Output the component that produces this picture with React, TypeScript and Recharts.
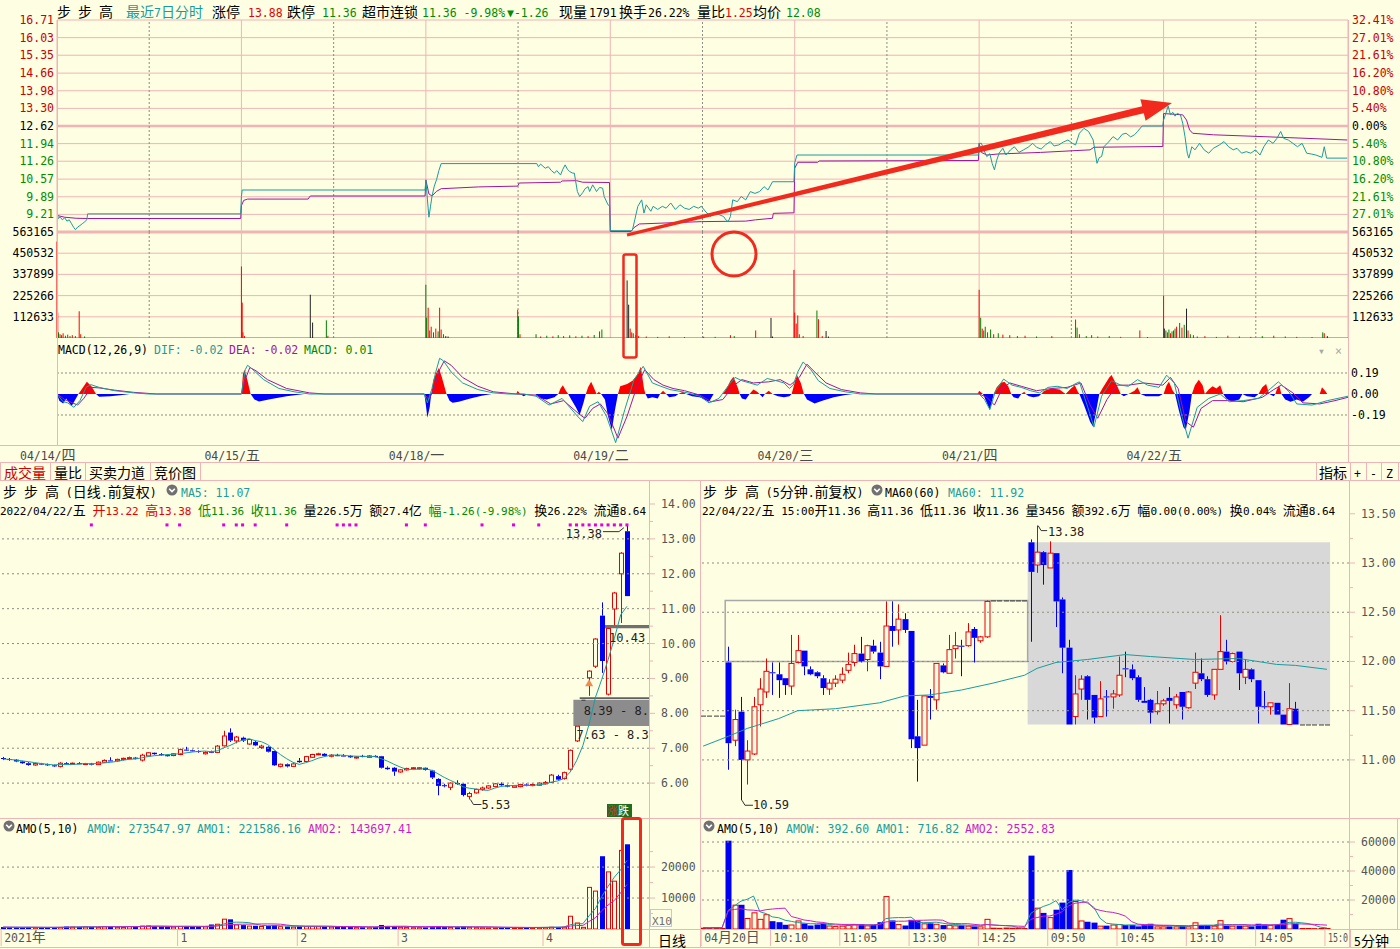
import React from 'react';
import { ComposedChart, Line, Bar, Area, XAxis, YAxis, ReferenceLine, ReferenceArea, ReferenceDot } from 'recharts';

// ---------- palette / fonts ----------
const BG = '#FEFEE2';
const GRID = '#F0B4B4';
const RED = '#E60000';
const GREEN = '#008C00';
const BLUE = '#0000F5';
const TEAL = '#1A9C9C';
const PURPLE = '#A0169E';
const MAGENTA = '#C81EC8';
const DASH = '#8C8C80';
const AXT = '#555555';
const FLAT = '#383838';
const MONO = '"DejaVu Sans Mono", "Liberation Mono", monospace';
const CJKF = '"Noto Sans CJK SC", "Noto Sans CJK JP", sans-serif';

// ---------- top: 7 day intraday ----------
const DAY = 241;
const TOTAL = DAY * 7;
const dayLabels = ['04/14/四', '04/15/五', '04/18/一', '04/19/二', '04/20/三', '04/21/四', '04/22/五'];
const priceTicks = [16.71, 16.03, 15.35, 14.66, 13.98, 13.3, 12.62, 11.94, 11.26, 10.57, 9.89, 9.21];
const pctLabels = ['32.41%', '27.01%', '21.61%', '16.20%', '10.80%', '5.40%', '0.00%', '5.40%', '10.80%', '16.20%', '21.61%', '27.01%'];
const P_MIN = 8.53;
const P_MAX = 16.71;
const P_PREV = 12.62;
const volTicks = [112633, 225266, 337899, 450532, 563165];
const V_MAX = 563165;
const macdTicks = [0.19, 0, -0.19];
const M_MIN = -0.4615;
const M_MAX = 0.38;

// price per day: [minute, price]
const priceDays: number[][][] = [
  [[0, 9.22], [2, 9.05], [4, 9.12], [7, 9.0], [10, 9.08], [13, 8.95], [16, 9.0], [19, 8.85], [22, 8.7], [24, 8.62], [27, 8.72], [30, 8.78], [33, 8.85], [36, 8.92], [39, 9.0], [40, 9.23], [240, 9.23]],
  [[0, 9.9], [1, 10.15], [240, 10.15]],
  [[0, 10.54], [2, 9.8], [4, 9.1], [6, 9.5], [8, 9.9], [11, 10.3], [14, 10.55], [17, 10.9], [20, 11.17], [145, 11.17], [147, 11.05], [150, 11.15], [156, 10.99], [160, 11.05], [164, 10.9], [168, 10.8], [171, 10.9], [176, 10.73], [179, 10.95], [182, 11.12], [185, 10.95], [188, 10.86], [192, 10.8], [194, 10.8], [198, 10.09], [201, 9.9], [205, 10.05], [208, 10.2], [212, 10.28], [214, 10.09], [218, 10.35], [221, 10.2], [223, 10.09], [227, 10.25], [231, 10.22], [233, 9.9], [238, 9.58], [240, 9.54]],
  [[0, 8.58], [28, 8.58], [29, 8.61], [32, 9.0], [36, 9.52], [41, 9.77], [44, 9.26], [47, 9.58], [53, 9.33], [56, 9.52], [62, 9.4], [68, 9.52], [73, 9.45], [79, 9.65], [85, 9.4], [91, 9.58], [97, 9.45], [103, 9.4], [109, 9.52], [115, 9.45], [119, 9.52], [125, 9.3], [131, 9.13], [136, 9.26], [142, 9.2], [148, 9.13], [151, 9.0], [154, 8.93], [157, 9.13], [160, 9.77], [166, 9.7], [171, 9.9], [177, 9.77], [183, 10.09], [189, 10.02], [195, 10.09], [201, 10.28], [206, 10.15], [212, 10.47], [240, 10.47]],
  [[0, 11.2], [3, 11.5], [240, 11.5]],
  [[0, 11.95], [3, 11.95], [6, 11.7], [10, 11.44], [14, 11.55], [17, 11.18], [20, 10.93], [23, 11.3], [26, 11.57], [31, 11.76], [35, 11.5], [41, 11.7], [46, 11.82], [52, 11.6], [58, 11.7], [64, 11.8], [70, 11.95], [75, 11.8], [81, 11.73], [87, 11.9], [93, 12.02], [98, 11.85], [104, 11.89], [110, 12.0], [116, 12.08], [122, 11.95], [126, 11.89], [131, 12.34], [137, 12.53], [143, 12.41], [149, 12.08], [154, 11.18], [157, 11.4], [160, 11.44], [163, 11.82], [169, 12.0], [175, 12.21], [181, 12.08], [187, 12.3], [192, 12.34], [198, 12.2], [203, 12.28], [207, 12.41], [213, 12.62], [240, 12.62]],
  [[0, 12.85], [3, 13.11], [6, 13.39], [9, 13.05], [12, 13.15], [15, 13.0], [18, 13.11], [22, 13.05], [25, 12.73], [28, 12.21], [31, 11.57], [33, 11.38], [37, 11.82], [41, 11.7], [47, 11.95], [53, 11.7], [59, 11.57], [65, 11.76], [73, 11.89], [79, 12.02], [85, 11.82], [91, 11.7], [96, 11.76], [102, 11.57], [108, 11.63], [114, 11.57], [120, 11.7], [126, 11.5], [131, 11.82], [137, 12.08], [143, 11.95], [148, 12.14], [153, 12.41], [157, 12.14], [163, 12.08], [169, 11.95], [175, 11.82], [181, 11.95], [187, 11.57], [193, 11.54], [199, 11.5], [207, 11.41], [210, 11.82], [213, 11.38], [240, 11.38]],
];
const avgDays: number[][][] = [
  [[0, 9.17], [10, 9.1], [25, 9.06], [40, 9.05], [240, 9.05]],
  [[0, 9.55], [3, 9.75], [8, 9.8], [87, 9.8], [90, 9.92], [240, 9.92]],
  [[0, 10.54], [4, 10.0], [8, 9.92], [14, 10.1], [20, 10.2], [69, 10.27], [120, 10.3], [122, 10.42], [176, 10.45], [178, 10.5], [197, 10.51], [205, 10.45], [240, 10.44]],
  [[0, 8.55], [27, 8.55], [31, 8.7], [38, 8.84], [119, 8.93], [177, 8.95], [190, 9.0], [212, 9.06], [213, 9.25], [240, 9.27]],
  [[0, 10.99], [4, 11.22], [30, 11.22], [32, 11.27], [240, 11.29]],
  [[0, 11.95], [3, 11.6], [10, 11.5], [25, 11.54], [80, 11.6], [145, 11.7], [150, 11.8], [240, 11.83]],
  [[0, 13.1], [25, 13.05], [30, 12.85], [34, 12.47], [38, 12.34], [65, 12.28], [130, 12.21], [190, 12.14], [240, 12.08]],
];
// [t, volume, colour code]
const intradayVolume: [number, number, string][] = [
  [0, 512000, 'r'], [1, 135000, 'r'], [2, 30000, 'g'], [4, 20000, 'r'], [6, 15000, 'g'], [8, 25000, 'r'], [11, 12000, 'g'], [14, 18000, 'r'], [17, 10000, 'g'], [20, 15000, 'r'], [24, 10000, 'g'], [29, 142000, 'r'], [31, 20000, 'r'], [36, 8000, 'g'],
  [241, 380000, 'r'], [242, 188000, 'r'], [243, 30000, 'r'], [245, 10000, 'r'], [331, 230000, 'k'], [334, 82000, 'k'], [352, 94000, 'g'], [354, 12000, 'r'],
  [482, 283000, 'g'], [483, 108000, 'g'], [485, 161000, 'r'], [487, 40000, 'g'], [489, 60000, 'r'], [492, 30000, 'g'], [495, 50000, 'r'], [498, 35000, 'g'], [500, 161000, 'r'], [502, 45000, 'r'], [505, 20000, 'g'], [508, 10000, 'k'], [511, 8000, 'k'],
  [602, 150000, 'r'], [603, 115000, 'g'], [605, 20000, 'r'], [626, 20000, 'g'], [632, 8000, 'r'], [640, 12000, 'g'], [648, 9000, 'r'], [655, 15000, 'g'], [662, 10000, 'r'], [670, 14000, 'g'], [678, 9000, 'r'], [686, 12000, 'g'], [694, 10000, 'r'], [702, 16000, 'g'], [709, 35000, 'g'], [712, 45000, 'g'],
  [745, 306000, 'k'], [747, 177000, 'k'], [749, 50000, 'r'], [751, 30000, 'g'], [753, 25000, 'r'], [756, 15000, 'g'], [760, 10000, 'r'], [770, 8000, 'r'], [785, 6000, 'g'], [800, 9000, 'r'], [820, 5000, 'g'], [845, 7000, 'r'], [860, 6000, 'g'], [880, 15000, 'r'], [885, 10000, 'g'], [913, 40000, 'r'], [933, 107000, 'k'], [935, 8000, 'k'],
  [963, 362000, 'r'], [964, 135000, 'r'], [966, 77000, 'r'], [968, 120000, 'r'], [970, 20000, 'g'], [975, 10000, 'r'], [993, 146000, 'g'], [995, 100000, 'r'], [1000, 10000, 'r'], [1005, 37000, 'k'], [1008, 8000, 'k'],
  [1205, 256000, 'r'], [1207, 108000, 'g'], [1209, 50000, 'r'], [1211, 40000, 'g'], [1213, 60000, 'g'], [1216, 30000, 'r'], [1220, 45000, 'g'], [1224, 20000, 'r'], [1230, 25000, 'g'], [1236, 18000, 'r'], [1245, 15000, 'r'], [1255, 10000, 'g'], [1265, 12000, 'r'], [1280, 8000, 'g'], [1300, 10000, 'r'], [1331, 98000, 'r'], [1333, 55000, 'g'], [1336, 20000, 'r'], [1345, 10000, 'g'], [1352, 15000, 'g'], [1360, 8000, 'r'], [1375, 10000, 'g'], [1390, 6000, 'r'], [1415, 40000, 'r'], [1425, 5000, 'g'],
  [1446, 225000, 'r'], [1447, 50000, 'k'], [1449, 40000, 'g'], [1451, 30000, 'r'], [1453, 45000, 'g'], [1455, 25000, 'r'], [1457, 35000, 'g'], [1459, 40000, 'r'], [1461, 50000, 'g'], [1463, 60000, 'r'], [1467, 80000, 'g'], [1470, 55000, 'r'], [1473, 70000, 'g'], [1476, 156000, 'k'], [1478, 40000, 'r'], [1481, 20000, 'g'], [1485, 15000, 'r'], [1490, 8000, 'g'], [1500, 10000, 'r'], [1515, 6000, 'g'], [1530, 12000, 'r'], [1545, 8000, 'g'], [1560, 6000, 'r'], [1575, 10000, 'g'], [1590, 12000, 'r'], [1605, 8000, 'g'], [1620, 6000, 'r'], [1640, 5000, 'g'], [1654, 30000, 'g'], [1656, 25000, 'r'], [1660, 10000, 'k'],
];
const macdHist: number[][] = [
  [0, 0], [3, -0.06], [8, -0.085], [12, -0.04], [15, -0.07], [19, -0.11], [24, -0.05], [28, 0], [33, 0.05], [39, 0.11], [45, 0.07], [51, 0], [55, -0.025], [70, -0.02], [85, -0.01], [95, 0],
  [241, 0], [243, 0.18], [245, 0.22], [249, 0.12], [253, 0], [258, -0.05], [264, -0.067], [280, -0.045], [300, -0.02], [323, 0],
  [480, 0], [482, -0.1], [484, -0.215], [487, -0.12], [489, 0], [492, 0.13], [495, 0.18], [499, 0.235], [503, 0.15], [507, 0.05], [509, 0], [513, -0.06], [517, -0.08], [525, -0.07], [540, -0.04], [555, -0.015], [568, 0],
  [600, 0], [602, 0.03], [605, 0], [610, -0.02], [615, 0], [625, 0], [632, -0.04], [640, -0.05], [650, -0.03], [655, 0], [658, 0.05], [661, 0.08], [665, 0.03], [668, 0], [672, -0.05], [678, -0.12], [683, -0.19], [688, -0.08], [691, 0], [694, 0.06], [698, 0.11], [702, 0.05], [705, 0], [708, 0.02], [711, 0], [716, -0.05], [720, -0.2], [725, -0.326], [729, -0.15], [733, 0], [736, 0.07], [745, 0.09], [752, 0.12], [758, 0.17], [763, 0.247], [767, 0.05], [769, 0], [772, -0.04], [778, -0.03], [785, -0.04], [788, 0], [792, 0.03], [796, 0], [800, -0.03], [808, -0.02], [812, 0], [818, 0.02], [822, 0], [830, -0.02], [840, -0.03], [852, -0.07], [858, 0], [870, 0], [875, 0.05], [880, 0.12], [884, 0.157], [890, 0.05], [892, 0], [895, -0.04], [900, -0.05], [905, 0], [910, 0.04], [915, 0.02], [918, 0], [922, -0.03], [925, 0], [930, 0.03], [935, 0], [942, -0.02], [950, -0.03], [957, -0.02], [960, 0], [963, 0.08], [967, 0.172], [972, 0.1], [976, 0], [980, -0.05], [990, -0.085], [1000, -0.06], [1015, -0.03], [1030, -0.01], [1040, 0],
  [1203, 0], [1205, 0.03], [1210, 0], [1215, -0.08], [1219, -0.145], [1222, -0.06], [1224, 0], [1228, 0.06], [1233, 0.1], [1238, 0.11], [1243, 0.07], [1247, 0], [1250, -0.03], [1256, -0.04], [1260, 0], [1264, 0.02], [1266, 0], [1270, -0.02], [1276, -0.03], [1283, -0.02], [1286, 0], [1290, 0.03], [1300, 0.05], [1310, 0.04], [1318, 0], [1325, 0.05], [1330, 0.08], [1334, 0.02], [1336, 0], [1342, -0.1], [1350, -0.25], [1354, -0.296], [1358, -0.15], [1362, 0], [1366, 0.05], [1375, 0.15], [1378, 0.172], [1385, 0.08], [1390, 0], [1394, -0.02], [1400, 0], [1408, 0.03], [1412, 0.06], [1416, 0], [1423, -0.02], [1440, -0.02], [1445, 0],
  [1446, 0], [1450, 0.08], [1453, 0.11], [1458, 0.03], [1461, 0], [1466, -0.15], [1472, -0.3], [1475, -0.326], [1480, -0.15], [1483, 0], [1487, 0.08], [1492, 0.13], [1497, 0.08], [1500, 0], [1505, 0.04], [1510, 0.07], [1515, 0.05], [1520, 0.08], [1524, 0], [1528, -0.04], [1535, -0.07], [1545, -0.05], [1549, 0], [1555, -0.02], [1565, -0.03], [1570, 0], [1575, 0.06], [1580, 0.09], [1584, 0], [1590, -0.02], [1592, 0], [1594, 0.04], [1597, 0.08], [1600, 0], [1605, -0.05], [1612, -0.07], [1620, -0.05], [1628, -0.07], [1636, -0.03], [1640, 0], [1650, 0], [1653, 0.06], [1657, 0.03], [1660, 0], [1687, 0],
];
const difPts: number[][] = [
  [0, 0], [8, -0.07], [14, -0.08], [22, -0.12], [30, -0.06], [38, 0.06], [44, 0.085], [55, 0.06], [75, 0.03], [100, 0.01], [120, 0], [241, 0], [246, 0.22], [249, 0.26], [256, 0.22], [270, 0.13], [290, 0.05], [310, 0.02], [330, 0], [480, 0], [484, -0.08], [490, 0.05], [495, 0.2], [500, 0.323], [505, 0.3], [515, 0.2], [530, 0.1], [550, 0.04], [570, 0.01], [590, 0], [610, 0], [626, -0.02], [643, -0.1], [660, -0.04], [680, -0.2], [687, -0.25], [696, -0.11], [707, -0.07], [718, -0.2], [730, -0.44], [742, -0.14], [754, 0.13], [766, 0.25], [778, 0.1], [789, 0.07], [801, 0.04], [813, 0.025], [824, 0.01], [840, -0.02], [852, -0.08], [865, -0.04], [880, 0.1], [886, 0.15], [895, 0.12], [905, 0.1], [915, 0.08], [928, 0.14], [940, 0.12], [950, 0.1], [957, 0.05], [962, 0.08], [968, 0.2], [975, 0.29], [985, 0.22], [995, 0.12], [1010, 0.05], [1030, 0.02], [1050, 0], [1205, 0], [1212, -0.05], [1219, -0.14], [1226, 0.02], [1237, 0.135], [1248, 0.08], [1260, 0.06], [1272, 0.03], [1284, 0.01], [1295, 0.06], [1307, 0.07], [1320, 0.05], [1330, 0.09], [1336, 0.11], [1347, -0.12], [1355, -0.3], [1365, -0.02], [1378, 0.12], [1390, 0.08], [1400, 0.07], [1412, 0.13], [1425, 0.08], [1440, 0.06], [1450, 0.17], [1460, 0.1], [1470, -0.2], [1478, -0.4], [1490, -0.12], [1505, -0.04], [1520, 0], [1532, -0.07], [1550, -0.06], [1570, -0.04], [1586, 0.05], [1596, 0.11], [1610, 0.02], [1620, -0.09], [1640, -0.1], [1660, -0.06], [1687, -0.02],
];
const deaPts: number[][] = [
  [0, 0], [10, -0.05], [20, -0.08], [27, -0.1], [35, -0.04], [45, 0.06], [55, 0.055], [75, 0.035], [100, 0.015], [130, 0], [241, 0], [247, 0.15], [252, 0.24], [260, 0.21], [275, 0.13], [300, 0.05], [330, 0.01], [350, 0], [480, 0], [486, -0.05], [493, 0.05], [500, 0.22], [506, 0.3], [515, 0.26], [530, 0.15], [550, 0.07], [570, 0.02], [600, 0], [626, -0.01], [645, -0.09], [662, -0.06], [682, -0.18], [690, -0.22], [700, -0.13], [710, -0.09], [720, -0.18], [733, -0.4], [745, -0.2], [757, 0.05], [768, 0.22], [780, 0.13], [792, 0.08], [805, 0.05], [820, 0.03], [840, -0.01], [855, -0.07], [870, -0.05], [885, 0.08], [895, 0.13], [910, 0.1], [930, 0.11], [945, 0.13], [958, 0.08], [970, 0.15], [980, 0.27], [990, 0.2], [1005, 0.1], [1025, 0.04], [1050, 0.01], [1070, 0], [1205, 0], [1215, -0.03], [1225, -0.1], [1235, 0.05], [1245, 0.1], [1260, 0.07], [1280, 0.03], [1300, 0.05], [1320, 0.06], [1338, 0.1], [1350, -0.1], [1360, -0.22], [1372, -0.05], [1385, 0.08], [1400, 0.08], [1420, 0.1], [1445, 0.08], [1455, 0.15], [1465, 0.05], [1475, -0.25], [1485, -0.3], [1495, -0.13], [1510, -0.06], [1530, -0.06], [1550, -0.07], [1575, -0.03], [1590, 0.04], [1600, 0.08], [1615, 0.01], [1628, -0.08], [1650, -0.09], [1670, -0.06], [1687, -0.03],
];

// ---------- bottom-left: daily candles ----------
// [open, high, low, close]
const dailyCandles: number[][] = [
  [6.72, 6.75, 6.66, 6.69], [6.69, 6.72, 6.64, 6.67], [6.67, 6.69, 6.6, 6.62], [6.62, 6.64, 6.55, 6.57], [6.57, 6.6, 6.5, 6.52],
  [6.52, 6.58, 6.5, 6.56], [6.56, 6.58, 6.52, 6.54], [6.54, 6.56, 6.49, 6.51], [6.51, 6.53, 6.46, 6.48], [6.48, 6.6, 6.45, 6.57],
  [6.57, 6.6, 6.53, 6.55], [6.55, 6.59, 6.53, 6.57], [6.57, 6.6, 6.54, 6.55], [6.55, 6.58, 6.52, 6.56], [6.56, 6.58, 6.51, 6.53],
  [6.53, 6.62, 6.52, 6.6], [6.6, 6.68, 6.58, 6.65], [6.65, 6.74, 6.62, 6.64], [6.64, 6.7, 6.62, 6.68], [6.68, 6.73, 6.65, 6.71],
  [6.71, 6.76, 6.68, 6.73], [6.73, 6.75, 6.68, 6.7], [6.66, 6.84, 6.62, 6.8], [6.78, 6.89, 6.76, 6.87], [6.87, 6.88, 6.81, 6.83],
  [6.83, 6.86, 6.78, 6.8], [6.8, 6.83, 6.76, 6.79], [6.79, 6.86, 6.77, 6.84], [6.82, 6.99, 6.8, 6.96], [6.96, 7.04, 6.92, 6.94],
  [6.94, 6.96, 6.9, 6.92], [6.92, 6.94, 6.87, 6.89], [6.84, 6.91, 6.82, 6.88], [6.9, 6.93, 6.86, 6.88], [6.88, 7.09, 6.86, 7.06],
  [7.07, 7.5, 7.05, 7.35], [7.45, 7.57, 7.18, 7.22], [7.21, 7.35, 7.14, 7.32], [7.3, 7.33, 7.18, 7.22], [7.12, 7.27, 7.1, 7.25],
  [7.18, 7.21, 7.06, 7.08], [7.02, 7.1, 6.98, 7.06], [7.04, 7.06, 6.88, 6.9], [6.92, 6.93, 6.49, 6.51], [6.48, 6.56, 6.45, 6.54],
  [6.54, 6.56, 6.45, 6.48], [6.48, 6.57, 6.46, 6.55], [6.64, 6.72, 6.58, 6.6], [6.62, 6.78, 6.6, 6.76], [6.74, 6.84, 6.72, 6.82],
  [6.82, 6.87, 6.8, 6.84], [6.84, 6.86, 6.76, 6.78], [6.77, 6.83, 6.74, 6.8], [6.8, 6.84, 6.77, 6.79], [6.79, 6.83, 6.76, 6.78],
  [6.78, 6.8, 6.72, 6.74], [6.72, 6.77, 6.7, 6.75], [6.78, 6.81, 6.74, 6.77], [6.74, 6.8, 6.73, 6.78], [6.78, 6.8, 6.74, 6.76],
  [6.77, 6.78, 6.42, 6.44], [6.44, 6.48, 6.38, 6.4], [6.44, 6.46, 6.21, 6.33], [6.32, 6.4, 6.3, 6.38], [6.38, 6.44, 6.36, 6.42],
  [6.42, 6.46, 6.4, 6.44], [6.41, 6.46, 6.39, 6.44], [6.44, 6.45, 6.36, 6.38], [6.36, 6.38, 6.12, 6.16], [6.12, 6.14, 5.65, 5.92],
  [5.94, 5.98, 5.88, 5.92], [5.88, 6.02, 5.8, 6.0], [6.0, 6.08, 5.95, 5.98], [5.98, 6.0, 5.62, 5.66], [5.62, 5.75, 5.53, 5.7],
  [5.72, 5.84, 5.7, 5.82], [5.82, 5.9, 5.78, 5.86], [5.86, 5.94, 5.84, 5.92], [5.9, 6.0, 5.88, 5.98], [5.98, 6.02, 5.92, 5.94],
  [5.94, 5.96, 5.88, 5.9], [5.88, 5.94, 5.86, 5.92], [5.9, 5.98, 5.88, 5.96], [5.96, 5.99, 5.91, 5.93], [5.93, 5.99, 5.91, 5.96],
  [5.94, 6.02, 5.92, 6.0], [5.98, 6.06, 5.96, 6.02], [6.02, 6.26, 6.0, 6.23], [6.2, 6.24, 6.06, 6.1], [6.13, 6.33, 6.1, 6.3],
  [6.4, 6.96, 6.36, 6.94], [7.21, 7.63, 7.18, 7.63], [8.39, 8.39, 8.39, 8.39], [9.02, 9.23, 8.5, 9.21], [9.35, 10.15, 9.3, 10.13],
  [10.8, 11.18, 9.16, 9.5], [8.55, 10.43, 8.51, 10.43], [10.99, 11.48, 10.53, 11.45], [12.0, 12.62, 10.59, 12.59], [13.22, 13.38, 11.36, 11.36],
];
const dailyAmount = [
  620, 580, 540, 520, 600, 560, 500, 480, 520, 650,
  800, 760, 700, 820, 650, 700, 880, 760, 700, 640,
  900, 820, 1100, 1150, 900, 780, 700, 760, 980, 900,
  760, 700, 820, 1460, 1700, 3330, 3125, 1460, 1250, 1100,
  1050, 980, 1000, 1300, 900, 800, 760, 820, 900, 940,
  880, 800, 760, 700, 680, 640, 620, 600, 580, 640,
  1300, 1000, 900, 700, 620, 580, 600, 560, 820, 900,
  700, 640, 600, 780, 700, 600, 560, 520, 500, 480,
  460, 440, 480, 500, 520, 560, 600, 720, 640, 760,
  4280, 2100, 700, 13600, 12400, 23500, 18600, 15600, 25540, 27355,
];
const dailySignals = [14, 26, 28, 35, 37, 38, 40, 45, 53, 54, 55, 56, 64, 67, 76, 81, 85, 90, 91, 92, 93, 94, 95, 96, 97, 98, 99];
const dailyTickIdx = [0, 28, 47, 63, 86];
const dailyTickText = ['2021年', '1', '2', '3', '4'];
const dailyPriceTicks = [6, 6.5, 7, 7.5, 8, 8.5, 9, 9.5, 10, 10.5, 11, 11.5, 12, 12.5, 13, 13.5, 14];
const dailyGridLevels = [6, 7, 8, 9, 10, 11, 12, 13];
const dailyAmtTicks = [5000, 10000, 15000, 20000, 25000];

// ---------- bottom-right: 5 minute candles ----------
const fiveCandles: number[][] = [
  [11.45, 11.45, 11.45, 11.45], [11.45, 11.45, 11.45, 11.45], [11.45, 11.45, 11.45, 11.45], [11.45, 11.45, 11.45, 11.45],
  [11.99, 12.15, 10.9, 11.17], [11.2, 11.51, 11.14, 11.41], [11.49, 11.64, 10.59, 11.0], [11.0, 11.2, 10.75, 11.09],
  [11.06, 11.64, 11.05, 11.54], [11.56, 11.83, 11.34, 11.72], [11.69, 12.03, 11.63, 11.9], [11.89, 11.99, 11.66, 11.88],
  [11.87, 11.99, 11.63, 11.81], [11.83, 11.83, 11.66, 11.76], [11.75, 12.27, 11.66, 11.98], [11.99, 12.27, 11.98, 12.11],
  [12.11, 12.11, 11.86, 11.95], [11.92, 11.95, 11.86, 11.87], [11.89, 11.9, 11.83, 11.85], [11.83, 11.86, 11.66, 11.73],
  [11.72, 11.82, 11.66, 11.78], [11.78, 11.86, 11.74, 11.82], [11.81, 11.94, 11.78, 11.87], [11.91, 12.09, 11.88, 11.97],
  [11.99, 12.17, 11.95, 12.08], [12.08, 12.25, 11.99, 12.0], [12.02, 12.17, 11.9, 12.16], [12.16, 12.22, 12.08, 12.1],
  [12.09, 12.2, 11.82, 11.95], [11.95, 12.61, 11.95, 12.36], [12.36, 12.61, 12.15, 12.31], [12.32, 12.58, 12.17, 12.43],
  [12.43, 12.49, 12.29, 12.32], [12.31, 12.31, 11.12, 11.21], [11.24, 11.61, 10.78, 11.12], [11.15, 11.65, 11.15, 11.65],
  [11.65, 11.72, 11.41, 11.63], [11.61, 11.98, 11.51, 11.98], [11.96, 11.98, 11.88, 11.89], [11.88, 12.27, 11.88, 12.12],
  [12.13, 12.3, 12.03, 12.16], [12.16, 12.22, 11.85, 12.15], [12.16, 12.39, 12.15, 12.3], [12.33, 12.35, 11.99, 12.24],
  [12.21, 12.26, 12.19, 12.25], [12.25, 12.62, 12.24, 12.61], [12.62, 12.62, 12.62, 12.62], [12.62, 12.62, 12.62, 12.62],
  [12.62, 12.62, 12.62, 12.62], [12.62, 12.62, 12.62, 12.62], [12.62, 12.62, 12.62, 12.62], [12.62, 12.62, 12.62, 12.62],
  [13.21, 13.24, 12.2, 12.91], [12.98, 13.38, 12.9, 13.11], [13.11, 13.12, 12.78, 12.98], [12.95, 13.22, 12.95, 13.1],
  [13.1, 13.1, 12.35, 12.61], [12.63, 12.65, 11.88, 12.14], [12.14, 12.22, 11.36, 11.36], [11.44, 11.86, 11.36, 11.67],
  [11.72, 11.86, 11.61, 11.82], [11.85, 11.86, 11.41, 11.61], [11.66, 11.66, 11.37, 11.43], [11.44, 11.8, 11.44, 11.62],
  [11.645, 11.71, 11.44, 11.64], [11.64, 11.71, 11.52, 11.67], [11.66, 12.05, 11.64, 11.86], [11.93, 12.1, 11.84, 11.92],
  [11.92, 11.97, 11.81, 11.83], [11.84, 11.86, 11.59, 11.61], [11.6, 11.74, 11.58, 11.58], [11.61, 11.62, 11.37, 11.48],
  [11.49, 11.7, 11.46, 11.57], [11.57, 11.62, 11.55, 11.6], [11.63, 11.74, 11.37, 11.6], [11.56, 11.67, 11.52, 11.64],
  [11.69, 11.69, 11.41, 11.54], [11.53, 11.7, 11.52, 11.69], [11.78, 12.09, 11.72, 11.89], [11.88, 12.03, 11.8, 11.82],
  [11.82, 11.85, 11.64, 11.66], [11.66, 11.92, 11.61, 11.92], [11.92, 12.47, 11.92, 12.1], [12.1, 12.22, 11.97, 12.0],
  [12.0, 12.09, 11.99, 12.08], [12.1, 12.1, 11.71, 11.88], [11.84, 12.02, 11.77, 11.92], [11.92, 11.93, 11.79, 11.82],
  [11.81, 11.81, 11.37, 11.54], [11.545, 11.7, 11.52, 11.54], [11.54, 11.58, 11.46, 11.58], [11.58, 11.58, 11.46, 11.46],
  [11.46, 11.46, 11.36, 11.36], [11.36, 11.78, 11.36, 11.52], [11.52, 11.59, 11.36, 11.36], [11.36, 11.36, 11.36, 11.36],
  [11.36, 11.36, 11.36, 11.36], [11.36, 11.36, 11.36, 11.36], [11.36, 11.36, 11.36, 11.36], [11.36, 11.36, 11.36, 11.36],
];
const fiveAmount = [
  900, 800, 1000, 700, 60900, 16800, 16700, 7600, 11500, 7000,
  10200, 5400, 4700, 2900, 3100, 5900, 3800, 2400, 3100, 3800,
  2400, 2000, 2300, 2700, 3400, 3400, 2500, 2700, 4700, 22700,
  5900, 3400, 2400, 6300, 5900, 3900, 3900, 3600, 2700, 2900,
  2500, 2500, 2300, 1800, 1800, 7000, 900, 800, 1000, 900,
  800, 700, 50600, 14700, 11100, 8200, 13300, 18200, 40700, 19300,
  5900, 5000, 4400, 2300, 2300, 3100, 3400, 2700, 2700, 1800,
  2900, 3600, 1800, 1800, 1800, 1800, 2300, 1800, 4600, 2300,
  2300, 2300, 6100, 2300, 2300, 2300, 2300, 1800, 3600, 3100,
  2700, 3100, 6400, 7500, 3600, 700, 700, 600, 700, 700,
];
const ma60Idx = [0, 4, 7, 12, 15, 21, 28, 32, 36, 41, 46, 51, 53, 56, 61, 67, 71, 78, 85, 91, 94, 99];
const ma60Val = [11.14, 11.24, 11.32, 11.42, 11.5, 11.52, 11.58, 11.65, 11.66, 11.71, 11.78, 11.86, 11.93, 11.99, 12.02, 12.07, 12.05, 12.02, 12.03, 11.97, 11.96, 11.92];
const fiveTickIdx = [0, 11, 22, 33, 44, 55, 66, 77, 88, 99];
const fiveTickText = ['04月20日', '10:10', '11:05', '13:30', '14:25', '09:50', '10:45', '13:10', '14:05', '15:0'];
const fivePriceTicks = [11, 11.25, 11.5, 11.75, 12, 12.25, 12.5, 12.75, 13, 13.25, 13.5];
const fiveGridLevels = [11, 11.5, 12, 12.5, 13];
const fiveAmtTicks = [10000, 20000, 30000, 40000, 50000, 60000];

// ---------- derived ----------
const SLOTS = 103;
const SIGNAL_Y = 13.4;
const series = (days: number[][][]) => days.flatMap((pts, d) => pts.map(([m, v]) => ({ t: d * DAY + m, v })));
const priceSeries = series(priceDays);
const avgSeries = series(avgDays);
const histSeries = macdHist.map(([t, v]) => ({ t, pos: v > 0 ? v : 0, neg: v < 0 ? v : 0 }));
const difSeries = difPts.map(([t, v]) => ({ t, v }));
const deaSeries = deaPts.map(([t, v]) => ({ t, v }));
const volColor: Record<string, string> = { r: '#FF0000', g: '#008000', k: '#222222' };
const movingAvg = (vals: number[], n: number) => vals.map((_, i) => {
  const s = vals.slice(Math.max(0, i - n + 1), i + 1);
  return s.reduce((a, b) => a + b, 0) / s.length;
});
const dMa5 = movingAvg(dailyCandles.map((k) => k[3]), 5);
const dA5 = movingAvg(dailyAmount, 5);
const dA10 = movingAvg(dailyAmount, 10);
const dailyRows = Array.from({ length: SLOTS }, (_, i) => {
  const k = dailyCandles[i];
  if (!k) return { i };
  return { i, o: k[0], h: k[1], l: k[2], c: k[3], hl: [k[2], k[1]], ma5: dMa5[i], sig: dailySignals.includes(i) ? SIGNAL_Y : null, amt: dailyAmount[i], a5: dA5[i], a10: dA10[i] };
});
const fA5 = movingAvg(fiveAmount, 5);
const fA10 = movingAvg(fiveAmount, 10);
const fiveRows = Array.from({ length: SLOTS }, (_, i) => {
  const k = fiveCandles[i];
  if (!k) return { i };
  const mi = ma60Idx.indexOf(i);
  return { i, o: k[0], h: k[1], l: k[2], c: k[3], hl: [k[2], k[1]], ma60: mi >= 0 ? ma60Val[mi] : null, amt: fiveAmount[i], a5: fA5[i], a10: fA10[i] };
});

// ---------- text helpers ----------
const isWide = (ch: string) => /[\u2E80-\u9FFF\uFF00-\uFFEF\u3000-\u303F]/.test(ch);
function splitRuns(s: string) {
  const out: { w: boolean; s: string }[] = [];
  for (const ch of s) {
    const w = isWide(ch);
    const last = out[out.length - 1];
    if (last && last.w === w) last.s += ch;
    else out.push({ w, s: ch });
  }
  return out;
}
function Txt({ x, y, t, c = '#000', cjk = 14, mono = 11.5 }: { x: number; y: number; t: string; c?: string; cjk?: number; mono?: number }) {
  return (
    <div style={{ position: 'absolute', left: x, top: y - 10, height: 20, lineHeight: '20px', whiteSpace: 'pre', color: c }}>
      {splitRuns(t).map((r, k) => (
        <span key={k} style={{ fontFamily: r.w ? CJKF : MONO, fontSize: r.w ? cjk : mono }}>{r.s}</span>
      ))}
    </div>
  );
}
function Row({ x, y, segs, cjk = 13, mono = 11 }: { x: number; y: number; segs: [string, string][]; cjk?: number; mono?: number }) {
  return (
    <div style={{ position: 'absolute', left: x, top: y - 10, height: 20, lineHeight: '20px', whiteSpace: 'pre' }}>
      {segs.map(([t, c], j) => splitRuns(t).map((r, k) => (
        <span key={j + '-' + k} style={{ color: c, fontFamily: r.w ? CJKF : MONO, fontSize: r.w ? cjk : mono }}>{r.s}</span>
      )))}
    </div>
  );
}
function SvgMixed({ x, y, t, fill = '#000', cjk = 13, mono = 11.5 }: { x: number; y: number; t: string; fill?: string; cjk?: number; mono?: number }) {
  return (
    <text x={x} y={y} fill={fill}>
      {splitRuns(t).map((r, k) => (
        <tspan key={k} fontFamily={r.w ? CJKF : MONO} fontSize={r.w ? cjk : mono}>{r.s}</tspan>
      ))}
    </text>
  );
}
const HL = ({ y, x1 = 0, x2 = 1400, c = GRID, h = 1 }: { y: number; x1?: number; x2?: number; c?: string; h?: number }) => (
  <div style={{ position: 'absolute', left: x1, top: y, width: x2 - x1, height: h, background: c }} />
);
const VL = ({ x, y1, y2, c = GRID }: { x: number; y1: number; y2: number; c?: string }) => (
  <div style={{ position: 'absolute', left: x, top: y1, width: 1, height: y2 - y1, background: c }} />
);
const Icon = ({ x, y }: { x: number; y: number }) => (
  <svg style={{ position: 'absolute', left: x, top: y - 6 }} width={12} height={12}>
    <circle cx={6} cy={6} r={5.5} fill="#707070" />
    <path d="M3.2 4.8 L6 7.6 L8.8 4.8" stroke="#fff" strokeWidth={1.6} fill="none" />
  </svg>
);

// ---------- tick renderers ----------
const leftPriceTick = (p: any) => {
  const v = p.payload.value;
  const col = Math.abs(v - P_PREV) < 0.001 ? '#000' : v > P_PREV ? '#C80000' : GREEN;
  return <text x={p.x - 3} y={p.y + 4} textAnchor="end" fontFamily={MONO} fontSize={11.5} fill={col}>{v.toFixed(2)}</text>;
};
const rightPctTick = (p: any) => {
  const v = p.payload.value;
  const idx = priceTicks.findIndex((t) => Math.abs(t - v) < 0.001);
  const col = Math.abs(v - P_PREV) < 0.001 ? '#000' : v > P_PREV ? '#C80000' : GREEN;
  return <text x={p.x + 4} y={p.y + 4} fontFamily={MONO} fontSize={11.5} fill={col}>{idx >= 0 ? pctLabels[idx] : ''}</text>;
};
const volTickL = (p: any) => <text x={p.x - 3} y={p.y + 4} textAnchor="end" fontFamily={MONO} fontSize={11.5} fill="#000">{p.payload.value}</text>;
const volTickR = (p: any) => <text x={p.x + 4} y={p.y + 4} fontFamily={MONO} fontSize={11.5} fill="#000">{p.payload.value}</text>;
const macdTickR = (p: any) => <text x={p.x + 3} y={p.y + 4} fontFamily={MONO} fontSize={11.5} fill="#000">{p.payload.value.toFixed(2)}</text>;
const bottomAxisTick = (isMajor: (v: number) => boolean, fmt: (v: number) => string) => (p: any) => {
  const v = p.payload.value;
  const major = isMajor(v);
  return (
    <g>
      <line x1={p.x} x2={p.x + (major ? 6 : 4)} y1={p.y} y2={p.y} stroke={GRID} />
      {major ? <text x={p.x + 12} y={p.y + 4} fontFamily={MONO} fontSize={11.5} fill={AXT}>{fmt(v)}</text> : null}
    </g>
  );
};
const catTick = (idx: number[], texts: string[], limit: number) => (p: any) => {
  const k = idx.indexOf(Number(p.payload.value));
  if (k < 0) return <g />;
  const t = texts[k];
  const avail = limit - (p.x + 1);
  const est = t.length * 6.93;
  return (
    <g>
      <line x1={p.x - 2} x2={p.x - 2} y1={p.y} y2={p.y + 17} stroke={GRID} />
      {est > avail ? (
        <text x={p.x + 1} y={p.y + 13} fill={AXT} fontFamily={MONO} fontSize={11.5} textLength={avail - 1} lengthAdjust="spacingAndGlyphs">{t}</text>
      ) : (
        <SvgMixed x={p.x + 1} y={p.y + 13} t={t} fill={AXT} cjk={14} mono={11.5} />
      )}
    </g>
  );
};

// ---------- shapes ----------
const candleShape = (bw: number) => (p: any) => {
  const { x, y, width, height, payload } = p;
  if (!payload || payload.o == null) return <g />;
  const { o, h, l, c } = payload;
  const top = Math.min(y, y + height);
  const ht = Math.abs(height);
  const cx = Math.round(x + width / 2) + 0.5;
  const up = c >= o;
  const col = up ? RED : BLUE;
  const rng = h - l;
  if (rng <= 0 || ht < 0.5) {
    return <line x1={cx - bw / 2} x2={cx + bw / 2} y1={top + 0.5} y2={top + 0.5} stroke={FLAT} />;
  }
  const yOf = (v: number) => top + ((h - v) / rng) * ht;
  const bTop = yOf(Math.max(o, c));
  const bBot = yOf(Math.min(o, c));
  const bh = Math.max(bBot - bTop, 1);
  return (
    <g>
      <line x1={cx} x2={cx} y1={top} y2={bTop} stroke={col} />
      <line x1={cx} x2={cx} y1={bTop + bh} y2={top + ht} stroke={col} />
      {up ? (
        <rect x={cx - bw / 2} y={bTop} width={bw} height={bh} fill={BG} stroke={col} />
      ) : (
        <rect x={cx - bw / 2 - 0.5} y={bTop} width={bw + 1} height={bh} fill={col} />
      )}
    </g>
  );
};
const amtShape = (bw: number) => (p: any) => {
  const { x, y, width, height, payload } = p;
  if (!payload || payload.amt == null) return <g />;
  const top = Math.min(y, y + height);
  const ht = Math.max(Math.abs(height), 1);
  const cx = Math.round(x + width / 2) + 0.5;
  const up = payload.c >= payload.o;
  return up ? (
    <rect x={cx - bw / 2} y={top + 0.5} width={bw} height={Math.max(ht - 0.5, 0.5)} fill="none" stroke={RED} />
  ) : (
    <rect x={cx - bw / 2 - 0.5} y={top} width={bw + 1} height={ht} fill={BLUE} />
  );
};
const sigDot = (p: any) => {
  if (!p.payload || p.payload.sig == null) return <g key={p.index} />;
  return <rect key={p.index} x={p.cx - 1.5} y={p.cy - 1.5} width={3} height={3} fill="#E000E0" />;
};
const hiLabel = (txt: string) => (p: any) => (
  <g>
    <polyline points={`${p.cx - 3},${p.cy + 2} ${p.cx - 8},${p.cy + 6} ${p.cx - 24},${p.cy + 6}`} fill="none" stroke="#333" />
    <text x={p.cx - 25} y={p.cy + 12} textAnchor="end" fontFamily={MONO} fontSize={12} fill="#222">{txt}</text>
  </g>
);
const loLabel = (txt: string) => (p: any) => (
  <g>
    <polyline points={`${p.cx + 1},${p.cy} ${p.cx + 4},${p.cy + 5} ${p.cx + 12},${p.cy + 5}`} fill="none" stroke="#333" />
    <text x={p.cx + 12} y={p.cy + 9} fontFamily={MONO} fontSize={12} fill="#222">{txt}</text>
  </g>
);
const hiLabelRight = (txt: string) => (p: any) => (
  <g>
    <polyline points={`${p.cx + 1},${p.cy} ${p.cx + 4},${p.cy + 5} ${p.cx + 10},${p.cy + 5}`} fill="none" stroke="#333" />
    <text x={p.cx + 11} y={p.cy + 10} fontFamily={MONO} fontSize={12} fill="#222">{txt}</text>
  </g>
);
const plainText = (txt: string, dx: number) => (p: any) => (
  <text x={p.cx + dx} y={p.cy + 4} fontFamily={MONO} fontSize={12} fill="#222">{txt}</text>
);
const triShape = (p: any) => <polygon points={`${p.cx - 4},${p.cy + 3} ${p.cx + 4},${p.cy + 3} ${p.cx},${p.cy - 4}`} fill="#F08A50" />;

// ---------- charts ----------
const dayBounds = Array.from({ length: 8 }, (_, d) => d * DAY);
const midDays = Array.from({ length: 7 }, (_, d) => d * DAY + 120.5);

function PriceChart() {
  return (
    <div style={{ position: 'absolute', left: 0, top: 0 }}>
      <ComposedChart width={1400} height={236} margin={{ top: 20, right: 0, bottom: 4, left: 0 }}>
        <XAxis type="number" dataKey="t" domain={[0, TOTAL]} hide allowDataOverflow />
        <YAxis yAxisId="l" type="number" domain={[P_MIN, P_MAX]} ticks={priceTicks} interval={0} width={57} allowDataOverflow axisLine={false} tickLine={false} tickSize={0} tickMargin={0} tick={leftPriceTick} />
        <YAxis yAxisId="r" orientation="right" type="number" domain={[P_MIN, P_MAX]} ticks={priceTicks} interval={0} width={52} allowDataOverflow axisLine={false} tickLine={false} tickSize={0} tickMargin={0} tick={rightPctTick} />
        {priceTicks.map((v) => (
          <ReferenceLine key={'h' + v} yAxisId="l" y={v} stroke={GRID} strokeWidth={Math.abs(v - P_PREV) < 0.001 ? 2.5 : 1} />
        ))}
        <ReferenceLine yAxisId="l" y={P_MIN} stroke={GRID} strokeWidth={3} />
        {dayBounds.map((t) => <ReferenceLine key={'d' + t} yAxisId="l" x={t} stroke={GRID} />)}
        {midDays.map((t) => <ReferenceLine key={'m' + t} yAxisId="l" x={t} stroke={DASH} strokeDasharray="2 2" />)}
        <Line yAxisId="l" data={avgSeries} dataKey="v" stroke={PURPLE} strokeWidth={1} dot={false} isAnimationActive={false} />
        <Line yAxisId="l" data={priceSeries} dataKey="v" stroke={TEAL} strokeWidth={1} dot={false} isAnimationActive={false} />
      </ComposedChart>
    </div>
  );
}

function VolumeChart() {
  return (
    <div style={{ position: 'absolute', left: 0, top: 226 }}>
      <ComposedChart width={1400} height={117} margin={{ top: 6, right: 0, bottom: 5, left: 0 }}>
        <XAxis type="number" dataKey="t" domain={[0, TOTAL]} hide allowDataOverflow />
        <YAxis yAxisId="l" type="number" domain={[0, V_MAX]} ticks={volTicks} interval={0} width={57} allowDataOverflow axisLine={false} tickLine={false} tickSize={0} tickMargin={0} tick={volTickL} />
        <YAxis yAxisId="r" orientation="right" type="number" domain={[0, V_MAX]} ticks={volTicks} interval={0} width={52} allowDataOverflow axisLine={false} tickLine={false} tickSize={0} tickMargin={0} tick={volTickR} />
        {volTicks.slice(0, 4).map((v) => <ReferenceLine key={'h' + v} yAxisId="l" y={v} stroke={GRID} />)}
        {dayBounds.map((t) => <ReferenceLine key={'d' + t} yAxisId="l" x={t} stroke={GRID} />)}
        {midDays.map((t) => <ReferenceLine key={'m' + t} yAxisId="l" x={t} stroke={DASH} strokeDasharray="2 2" />)}
        <Line yAxisId="l" data={[{ t: 0, v: 0 }, { t: TOTAL, v: 0 }]} dataKey="v" stroke="#6A6A6A" dot={false} isAnimationActive={false} />
        {intradayVolume.map(([t, v, c], k) => (
          <ReferenceLine key={'v' + k} yAxisId="l" segment={[{ x: t, y: 0 }, { x: t, y: v }]} stroke={volColor[c]} strokeWidth={1} />
        ))}
      </ComposedChart>
    </div>
  );
}

function MacdChart() {
  return (
    <div style={{ position: 'absolute', left: 0, top: 340 }}>
      <ComposedChart width={1400} height={105} margin={{ top: 12, right: 0, bottom: 0, left: 57 }}>
        <XAxis type="number" dataKey="t" domain={[0, TOTAL]} hide allowDataOverflow />
        <YAxis yAxisId="l" type="number" domain={[M_MIN, M_MAX]} allowDataOverflow hide />
        <YAxis yAxisId="r" orientation="right" type="number" domain={[M_MIN, M_MAX]} ticks={macdTicks} interval={0} width={52} allowDataOverflow axisLine={false} tickLine={false} tickSize={0} tickMargin={0} tick={macdTickR} />
        <ReferenceLine yAxisId="l" y={0.19} stroke={DASH} strokeDasharray="2 2" />
        <ReferenceLine yAxisId="l" y={-0.19} stroke={DASH} strokeDasharray="2 2" />
        <Area yAxisId="l" data={histSeries} dataKey="pos" type="linear" baseValue={0} stroke="none" fill="#FF0000" fillOpacity={1} isAnimationActive={false} />
        <Area yAxisId="l" data={histSeries} dataKey="neg" type="linear" baseValue={0} stroke="none" fill="#0000FF" fillOpacity={1} isAnimationActive={false} />
        <Line yAxisId="l" data={deaSeries} dataKey="v" stroke={PURPLE} dot={false} isAnimationActive={false} />
        <Line yAxisId="l" data={difSeries} dataKey="v" stroke={TEAL} dot={false} isAnimationActive={false} />
      </ComposedChart>
    </div>
  );
}

function DailyChart() {
  return (
    <div style={{ position: 'absolute', left: 0, top: 480 }}>
      <ComposedChart width={700} height={338} data={dailyRows} margin={{ top: 24, right: 0, bottom: 0, left: 0 }}>
        <XAxis dataKey="i" type="category" hide />
        <YAxis orientation="right" type="number" width={51} domain={[5, 14]} ticks={dailyPriceTicks} interval={0} allowDataOverflow axisLine={false} tickLine={false} tickSize={0} tickMargin={0} tick={bottomAxisTick((v) => Number.isInteger(v), (v) => v.toFixed(2))} />
        {dailyGridLevels.map((v) => <ReferenceLine key={v} y={v} stroke={DASH} strokeDasharray="2 3" />)}
        <ReferenceArea x1={91} x2={102} y1={7.64} y2={8.39} fill="#8C8C8C" fillOpacity={1} stroke="none" />
        <ReferenceArea x1={92} x2={102} y1={8.41} y2={8.46} fill="#606060" fillOpacity={1} stroke="none" />
        <ReferenceArea x1={96} x2={102} y1={10.44} y2={10.53} fill="#707070" fillOpacity={1} stroke="none" />
        <Bar dataKey="hl" shape={candleShape(4)} isAnimationActive={false} />
        <Line dataKey="ma5" stroke={TEAL} dot={false} isAnimationActive={false} />
        <Line dataKey="sig" stroke="none" dot={sigDot} isAnimationActive={false} />
        <ReferenceDot x={99} y={13.38} r={0} shape={hiLabel('13.38')} />
        <ReferenceDot x={74} y={5.53} r={0} shape={loLabel('5.53')} />
        <ReferenceDot x={96} y={10.17} r={0} shape={plainText('10.43', 1)} />
        <ReferenceDot x={92} y={8.08} r={0} shape={plainText('8.39 - 8.', 1)} />
        <ReferenceDot x={91} y={7.37} r={0} shape={plainText('7.63 - 8.3', 0)} />
        <ReferenceDot x={93} y={8.86} r={0} shape={triShape} />
      </ComposedChart>
    </div>
  );
}

function DailyAmoChart() {
  return (
    <div style={{ position: 'absolute', left: 0, top: 818 }}>
      <ComposedChart width={700} height={129} data={dailyRows} margin={{ top: 15, right: 0, bottom: 0, left: 0 }}>
        <XAxis dataKey="i" type="category" height={18} interval={0} axisLine={false} tickLine={false} tickSize={0} tickMargin={0} tick={catTick(dailyTickIdx, dailyTickText, 649)} />
        <YAxis orientation="right" type="number" width={51} domain={[0, 31000]} ticks={dailyAmtTicks} interval={0} allowDataOverflow axisLine={false} tickLine={false} tickSize={0} tickMargin={0} tick={bottomAxisTick((v) => v % 10000 === 0, (v) => String(v))} />
        <ReferenceLine y={10000} stroke={DASH} strokeDasharray="2 3" />
        <ReferenceLine y={20000} stroke={DASH} strokeDasharray="2 3" />
        <Bar dataKey="amt" shape={amtShape(4)} isAnimationActive={false} />
        <Line dataKey="a5" stroke={TEAL} dot={false} isAnimationActive={false} />
        <Line dataKey="a10" stroke={MAGENTA} dot={false} isAnimationActive={false} />
      </ComposedChart>
    </div>
  );
}

function FiveChart() {
  return (
    <div style={{ position: 'absolute', left: 700, top: 480 }}>
      <ComposedChart width={700} height={338} data={fiveRows} margin={{ top: 20, right: 0, bottom: 0, left: 0 }}>
        <XAxis dataKey="i" type="category" hide />
        <YAxis orientation="right" type="number" width={51} domain={[10.41, 13.64]} ticks={fivePriceTicks} interval={0} allowDataOverflow axisLine={false} tickLine={false} tickSize={0} tickMargin={0} tick={bottomAxisTick((v) => Math.abs(v * 2 - Math.round(v * 2)) < 0.001, (v) => v.toFixed(2))} />
        <ReferenceArea x1={52} x2={99} y1={11.36} y2={13.21} fill="#D8D8D8" fillOpacity={1} stroke="none" />
        {fiveGridLevels.map((v) => <ReferenceLine key={v} y={v} stroke={DASH} strokeDasharray="2 3" />)}
        <ReferenceArea x1={4} x2={51} y1={12.0} y2={12.62} fill="none" stroke="#A8A8A8" strokeWidth={1.5} />
        <Bar dataKey="hl" shape={candleShape(5)} isAnimationActive={false} />
        <Line dataKey="ma60" stroke={TEAL} dot={false} connectNulls isAnimationActive={false} />
        <ReferenceDot x={53} y={13.38} r={0} shape={hiLabelRight('13.38')} />
        <ReferenceDot x={6} y={10.59} r={0} shape={loLabel('10.59')} />
      </ComposedChart>
    </div>
  );
}

function FiveAmoChart() {
  return (
    <div style={{ position: 'absolute', left: 700, top: 818 }}>
      <ComposedChart width={700} height={129} data={fiveRows} margin={{ top: 14, right: 0, bottom: 0, left: 0 }}>
        <XAxis dataKey="i" type="category" height={18} interval={0} axisLine={false} tickLine={false} tickSize={0} tickMargin={0} tick={catTick(fiveTickIdx, fiveTickText, 649)} />
        <YAxis orientation="right" type="number" width={51} domain={[0, 66900]} ticks={fiveAmtTicks} interval={0} allowDataOverflow axisLine={false} tickLine={false} tickSize={0} tickMargin={0} tick={bottomAxisTick((v) => v % 20000 === 0, (v) => String(v))} />
        <ReferenceLine y={20000} stroke={DASH} strokeDasharray="2 3" />
        <ReferenceLine y={40000} stroke={DASH} strokeDasharray="2 3" />
        <ReferenceLine y={60000} stroke={DASH} strokeDasharray="2 3" />
        <Bar dataKey="amt" shape={amtShape(5)} isAnimationActive={false} />
        <Line dataKey="a5" stroke={TEAL} dot={false} isAnimationActive={false} />
        <Line dataKey="a10" stroke={MAGENTA} dot={false} isAnimationActive={false} />
      </ComposedChart>
    </div>
  );
}

function Annotations() {
  const A = '#F22A1E';
  return (
    <svg style={{ position: 'absolute', left: 0, top: 0, pointerEvents: 'none' }} width={1400} height={949}>
      <polygon points="627.4,236.5 626.6,233.5 1145.2,105.6 1146.8,112.4" fill={A} />
      <polygon points="1172,103 1140.4,99.3 1145.6,120.7" fill={A} />
      <circle cx={734} cy={254} r={22} fill="none" stroke={A} strokeWidth={3} />
      <rect x={623.5} y={254.5} width={13} height={103} rx={2} fill="none" stroke={A} strokeWidth={2.5} />
      <rect x={622.5} y={818.5} width={18} height={126} rx={2} fill="none" stroke={A} strokeWidth={3} />
    </svg>
  );
}

export default function App() {
  return (
    <div style={{ position: 'absolute', left: 0, top: 0, width: 1400, height: 949, background: BG, overflow: 'hidden', fontFamily: CJKF }}>
      {/* top header */}
      <Txt x={57} y={10} t="步 步 高" />
      <Txt x={126} y={10} t="最近7日分时" c={TEAL} />
      <Txt x={212} y={10} t="涨停" />
      <Txt x={248} y={10} t="13.88" c={RED} />
      <Txt x={287} y={10} t="跌停" />
      <Txt x={322} y={10} t="11.36" c={GREEN} />
      <Txt x={362} y={10} t="超市连锁" />
      <Txt x={422} y={10} t="11.36 -9.98%" c={GREEN} />
      <Txt x={507} y={10} t="▼-1.26" c={GREEN} />
      <Txt x={559} y={10} t="现量" />
      <Txt x={589} y={10} t="1791" />
      <Txt x={619} y={10} t="换手" />
      <Txt x={648} y={10} t="26.22%" />
      <Txt x={697} y={10} t="量比" />
      <Txt x={725} y={10} t="1.25" c={RED} />
      <Txt x={753} y={10} t="均价" />
      <Txt x={786} y={10} t="12.08" c={GREEN} />

      <PriceChart />
      <VolumeChart />
      <MacdChart />

      {/* macd header */}
      <Txt x={58} y={347} t="MACD(12,26,9)" />
      <Txt x={154} y={347} t="DIF: -0.02" c={TEAL} />
      <Txt x={229} y={347} t="DEA: -0.02" c={PURPLE} />
      <Txt x={304} y={347} t="MACD: 0.01" c={GREEN} />
      <Txt x={1318} y={348} t="▾" c="#A8A8A8" />
      <Txt x={1335} y={348} t="×" c="#A8A8A8" />
      <VL x={57} y1={20} y2={445} />
      <VL x={1348} y1={20} y2={462} />

      {/* date row */}
      <HL y={445} />
      {dayLabels.map((d, k) => (
        <Txt key={d} x={20 + k * 184.4} y={453} t={d} c="#4A4A4A" />
      ))}
      <HL y={462} />

      {/* tabs */}
      <Txt x={4} y={471} t="成交量" c="#D00000" />
      <Txt x={54} y={471} t="量比" />
      <Txt x={89} y={471} t="买卖力道" />
      <Txt x={154} y={471} t="竞价图" />
      {[0, 50, 85, 150, 200].map((x) => <VL key={'tb' + x} x={x} y1={462} y2={480} />)}
      <Txt x={1319} y={471} t="指标" />
      <Txt x={1354} y={471} t="+" />
      <Txt x={1370} y={471} t="-" />
      <Txt x={1386} y={471} t="Z" />
      {[1316, 1350, 1366, 1381, 1398].map((x) => <VL key={'tr' + x} x={x} y1={462} y2={480} />)}
      <HL y={480} />

      <DailyChart />
      <DailyAmoChart />
      <FiveChart />
      <FiveAmoChart />

      {/* bottom-left headers */}
      <Txt x={3} y={490} t="步 步 高 (日线.前复权)" />
      <Icon x={166} y={490} />
      <Txt x={181} y={490} t="MA5: 11.07" c={TEAL} />
      <Row x={0} y={508} segs={[['2022/04/22/五 ', '#000'], ['开13.22 ', RED], ['高13.38 ', RED], ['低11.36 ', GREEN], ['收11.36 ', GREEN], ['量226.5万 ', '#000'], ['额27.4亿 ', '#000'], ['幅-1.26(-9.98%) ', GREEN], ['换26.22% ', '#000'], ['流通8.64', '#000']]} />
      <div style={{ position: 'absolute', left: 607, top: 804, width: 25, height: 13, background: '#1E6E1E', lineHeight: '13px', fontSize: 11, fontFamily: CJKF, whiteSpace: 'pre' }}>
        <span style={{ color: '#C04040' }}>涨</span><span style={{ color: '#FFFFFF' }}>跌</span>
      </div>
      <Icon x={3} y={826} />
      <Txt x={16} y={826} t="AMO(5,10)" />
      <Txt x={87} y={826} t="AMOW: 273547.97" c={TEAL} />
      <Txt x={197} y={826} t="AMO1: 221586.16" c={TEAL} />
      <Txt x={308} y={826} t="AMO2: 143697.41" c={MAGENTA} />

      {/* bottom-right headers */}
      <Txt x={703} y={490} t="步 步 高 (5分钟.前复权)" />
      <Icon x={871} y={490} />
      <Txt x={885} y={490} t="MA60(60)" />
      <Txt x={948} y={490} t="MA60: 11.92" c={TEAL} />
      <Row x={702} y={508} segs={[['22/04/22/五 15:00开11.36 高11.36 低11.36 收11.36 量3456 额392.6万 幅0.00(0.00%) 换0.04% 流通8.64', '#000']]} />
      <Icon x={703} y={826} />
      <Txt x={717} y={826} t="AMO(5,10)" />
      <Txt x={786} y={826} t="AMOW: 392.60" c={TEAL} />
      <Txt x={876} y={826} t="AMO1: 716.82" c={TEAL} />
      <Txt x={965} y={826} t="AMO2: 2552.83" c={MAGENTA} />

      {/* frame lines bottom */}
      <HL y={818} />
      <HL y={929} />
      <HL y={947} />
      <VL x={649} y1={480} y2={947} />
      <VL x={700} y1={480} y2={947} />
      <VL x={1349} y1={480} y2={947} />
      <div style={{ position: 'absolute', left: 650, top: 909, width: 22, height: 18, border: '1px solid #C8C8C8', boxSizing: 'border-box' }} />
      <Txt x={652} y={918} t="X10" c="#707070" mono={11} />
      <div style={{ position: 'absolute', left: 650, top: 930, width: 50, height: 17, background: BG }} />
      <Txt x={658} y={939} t="日线" />
      <div style={{ position: 'absolute', left: 1350, top: 930, width: 50, height: 17, background: BG, borderLeft: `1px solid ${GRID}` }} />
      <Txt x={1354} y={939} t="5分钟" />
      <div style={{ position: 'absolute', left: 1349, top: 818, width: 49, height: 112, border: `1px solid ${GRID}`, boxSizing: 'border-box' }} />

      <Annotations />
    </div>
  );
}
